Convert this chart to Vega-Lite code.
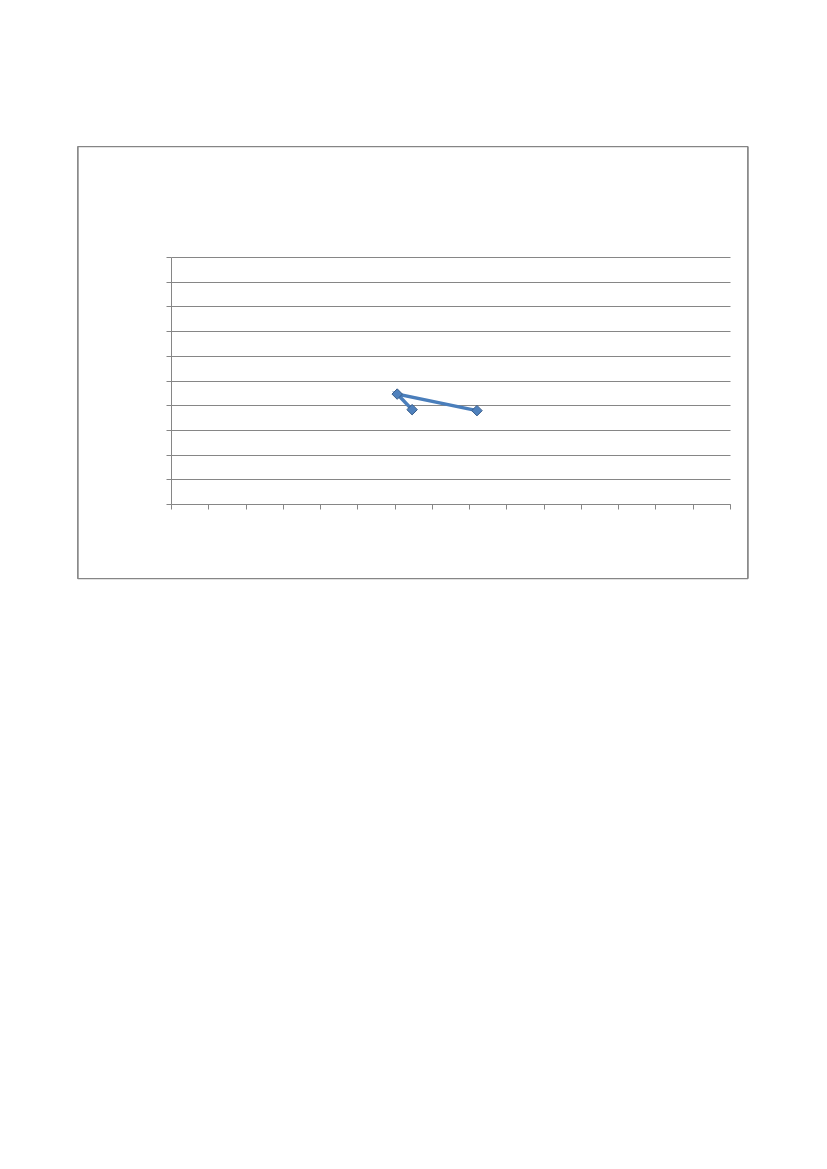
{
  "$schema": "https://vega.github.io/schema/vega-lite/v6.json",
  "autosize": {"type": "none"},
  "width": 559,
  "height": 247,
  "padding": {"left": 171, "top": 257, "right": 97, "bottom": 665},
  "background": "white",
  "config": {"view": {"stroke": null}},
  "data": {
    "values": [
      {"order": 1, "x": 6.47, "y": 3.82},
      {"order": 2, "x": 6.07, "y": 4.45},
      {"order": 3, "x": 8.21, "y": 3.78}
    ]
  },
  "encoding": {
    "x": {
      "type": "quantitative",
      "scale": {"domain": [0, 15], "nice": false, "zero": false},
      "axis": {
        "title": null, "labels": false, "values": [0,1,2,3,4,5,6,7,8,9,10,11,12,13,14,15],
        "grid": false, "domainColor": "#868686", "tickColor": "#868686", "tickSize": 5
      }
    },
    "y": {
      "type": "quantitative",
      "scale": {"domain": [0, 10], "nice": false, "zero": false},
      "axis": {
        "title": null, "labels": false, "values": [0,1,2,3,4,5,6,7,8,9,10],
        "grid": true, "gridColor": "#868686", "gridOpacity": 1,
        "domainColor": "#868686", "tickColor": "#868686", "tickSize": 5
      }
    }
  },
  "layer": [
    {
      "mark": {"type": "rect", "fill": null, "stroke": "#868686", "strokeWidth": 1, "clip": false},
      "encoding": {
        "x": {"datum": -2.5},
        "x2": {"datum": 15.48},
        "y": {"datum": 14.47},
        "y2": {"datum": -3.02}
      }
    },
    {
      "mark": {"type": "line", "color": "#4A7EBB", "strokeWidth": 3.5, "clip": false},
      "encoding": {
        "x": {"field": "x"},
        "y": {"field": "y"},
        "order": {"field": "order"}
      }
    },
    {
      "mark": {"type": "point", "shape": "diamond", "size": 110, "filled": true, "fill": "#4F81BD", "stroke": "#385D8A", "strokeWidth": 1, "opacity": 1},
      "encoding": {
        "x": {"field": "x"},
        "y": {"field": "y"}
      }
    }
  ]
}
